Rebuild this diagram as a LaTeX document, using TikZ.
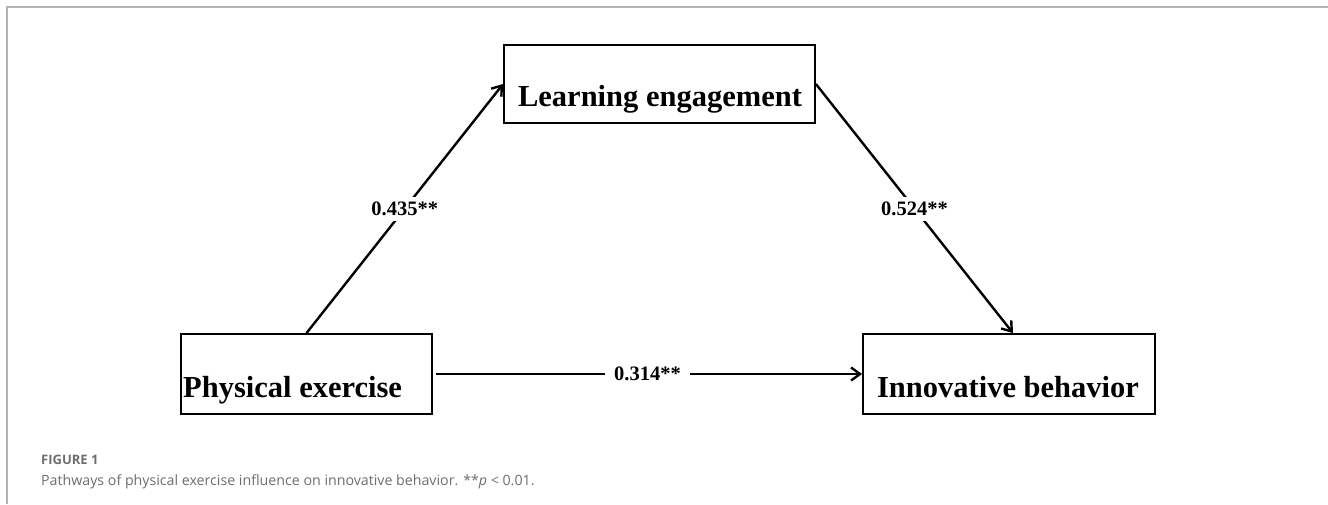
\documentclass[tikz,border=0pt]{standalone}
\usepackage{fontspec}
\setmainfont{Liberation Serif}
\newfontfamily\capfont{Open Sans}
\usetikzlibrary{arrows.meta}
\definecolor{framegray}{HTML}{B4B4B4}
\definecolor{capgray}{HTML}{6E6E6E}
\begin{document}
\begin{tikzpicture}[x=1pt,y=-1pt,
  box/.style={draw, line width=1.8pt, inner sep=0pt},
  boxtext/.style={inner sep=0pt, font=\fontsize{30.5}{36}\selectfont\bfseries},
  conn/.style={line width=2.4pt, -{Straight Barb[length=9pt,width=13pt]}},
  lab/.style={fill=white, inner sep=5pt, font=\fontsize{20.5}{24}\selectfont\bfseries}]
\useasboundingbox (0,0) rectangle (1328,504);
\fill[white] (0,0) rectangle (1328,504);
% frame
\draw[framegray, line width=1.5pt] (7,504) -- (7,7) -- (1328,7);
% boxes
\node[box, minimum width=311pt, minimum height=78pt] (le) at (659.5,84) {};
\node[box, minimum width=251pt, minimum height=80pt] (pe) at (306.5,374) {};
\node[box, minimum width=292pt, minimum height=80pt] (ib) at (1009,374) {};
% texts
\node[boxtext, anchor=base] (tle) at (660,106) {Learning engagement};
\node[boxtext, anchor=base west] (tpe) at (183,397) {Physical exercise};
\node[boxtext, anchor=base] (tib) at (1008,397) {Innovative behavior};
% connectors
\draw[conn] (pe.north) -- (le.west) node[lab, midway] {0.435**};
\draw[conn] (le.east) -- ([xshift=4pt]ib.north) node[lab, midway] {0.524**};
\draw[conn, shorten <=3pt] (pe.east) -- (ib.west) node[lab, midway, inner xsep=9pt] {0.314**};
% caption
\node[anchor=base west, inner sep=0pt, text=capgray, font=\capfont\fontsize{13}{15}\selectfont\bfseries] (fig) at (41,464) {FIGURE 1};
\node[anchor=base west, inner sep=0pt, text=capgray, font=\capfont\fontsize{14.2}{17}\selectfont] (cap) at (41,485) {Pathways of physical exercise influence on innovative behavior. **\textit{p} < 0.01.};
\end{tikzpicture}
\end{document}
